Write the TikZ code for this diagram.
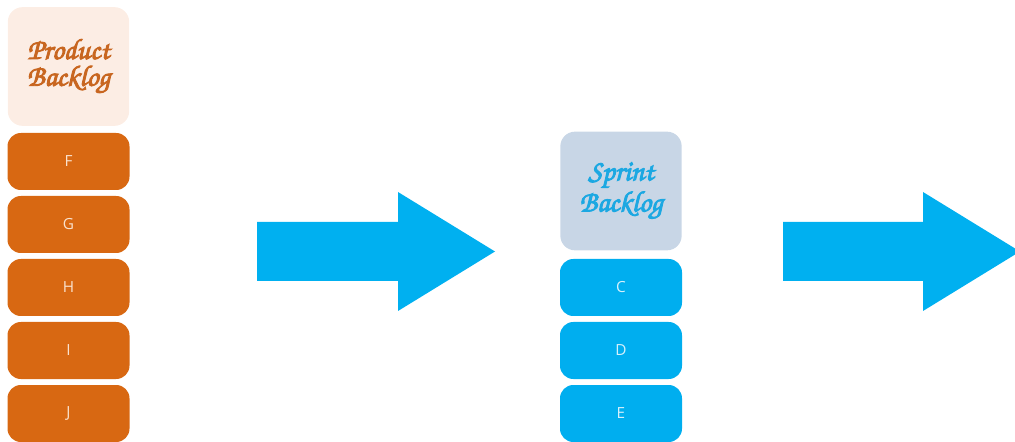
\documentclass[tikz,border=0pt]{standalone}
\usepackage{fontspec}
\setsansfont{Open Sans}
\definecolor{itemorange}{RGB}{216,104,18}
\definecolor{headpeach}{RGB}{252,237,228}
\definecolor{headbrown}{RGB}{200,102,32}
\definecolor{headgrey}{RGB}{200,214,230}
\definecolor{headcyan}{RGB}{28,168,226}
\definecolor{itemblue}{RGB}{0,174,239}
\definecolor{arrowblue}{RGB}{0,176,240}
\definecolor{labelpeach}{RGB}{250,226,206}
\definecolor{labelice}{RGB}{214,240,251}
\newcommand{\scripthead}{\fontencoding{OT1}\fontfamily{pzc}\fontseries{mb}\fontshape{it}\fontsize{22}{20}\selectfont}
% heavier script: fill and stroke the glyph outlines
\newcommand{\heavy}[1]{\special{pdf:literal direct 2 Tr 0.7 w}#1\special{pdf:literal direct 0 Tr}}
\tikzset{
  headbox/.style={rounded corners=11pt, minimum width=91pt, minimum height=89pt,
    inner sep=0pt, align=center, font=\scripthead},
  itembox/.style={rounded corners=10pt, minimum width=91.5pt, minimum height=42.75pt,
    inner sep=0pt, font=\sffamily\fontsize{11.5}{12}\selectfont},
  orangeitem/.style={itembox, fill=itemorange, text=labelpeach},
  blueitem/.style={itembox, fill=itemblue, text=labelice},
  blockarrow/.style={fill=arrowblue, draw=none}
}
\begin{document}
\begin{tikzpicture}[x=0.75pt, y=-0.75pt]
\clip (0,0) rectangle (1015,442);
\useasboundingbox (0,0) rectangle (1015,442);

% product backlog column
\node[headbox, fill=headpeach, text=headbrown] (pb) at (68.5,66.5) {\heavy{Product}\\\heavy{Backlog}};
\node[orangeitem] (f) at (68.5,161.5) {F};
\node[orangeitem] (g) at (68.5,224.5) {G};
\node[orangeitem] (h) at (68.5,287.5) {H};
\node[orangeitem] (i) at (68.5,350.5) {I};
\node[orangeitem] (j) at (68.5,413.5) {J};

% sprint backlog column
\node[headbox, fill=headgrey, text=headcyan] (sb) at (621,191) {\heavy{Sprint}\\\heavy{Backlog}};
\node[blueitem] (c) at (621,287.5) {C};
\node[blueitem] (d) at (621,350.5) {D};
\node[blueitem] (e) at (621,413.5) {E};

% block arrows between the stages
\fill[blockarrow] (257,222) -- (398,222) -- (398,192) -- (495,251.5)
  -- (398,311) -- (398,281) -- (257,281) -- cycle;
\fill[blockarrow] (783,222) -- (923,222) -- (923,192) -- (1020,251.5)
  -- (923,311) -- (923,281) -- (783,281) -- cycle;
\end{tikzpicture}
\end{document}
